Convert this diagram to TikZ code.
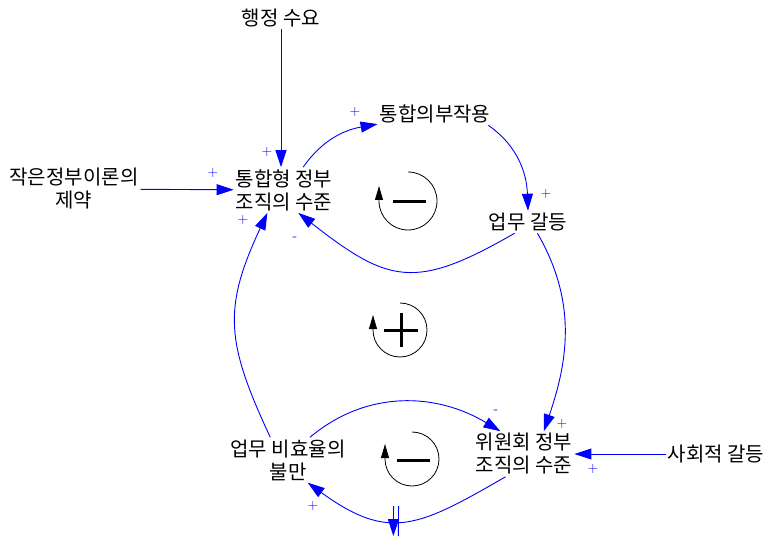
\documentclass[tikz,border=0pt]{standalone}
\usepackage{fontspec}
\usepackage{tikz}
\usetikzlibrary{arrows.meta,decorations.markings}
\newfontfamily\kr{Noto Sans CJK KR}
\definecolor{linkblue}{RGB}{0,0,255}

\begin{document}
\begin{tikzpicture}[x=1pt,y=1pt,
  var/.style={font=\kr\fontsize{20}{23}\selectfont,align=center,inner sep=2pt},
  pol/.style={font=\fontsize{14}{15}\selectfont,text=linkblue,inner sep=0pt},
  link/.style={draw=linkblue,line width=0.9pt,-{Triangle[length=17pt,width=11pt]}},
  delay/.style={postaction={decorate,decoration={markings,mark=at position 0.55 with
    {\draw[linkblue,line width=0.9pt] (-2.5,-15) -- (-2.5,15) (2.5,-15) -- (2.5,15);}}}},
  loopline/.style={line width=0.8pt,-{Triangle[length=14pt,width=8pt]}},
  sign/.style={line width=3pt}]
\useasboundingbox (0,0) rectangle (765,536);

% variables
\node[var] (demand) at (281,518) {행정 수요};
\node[var] (side) at (435,422) {통합의부작용};
\node[var] (small) at (74,347) {작은정부이론의\\제약};
\node[var] (integ) at (284,346) {통합형 정부\\조직의 수준};
\node[var] (conflict) at (528,314) {업무 갈등};
\node[var] (ineff) at (288,76) {업무 비효율의\\불만};
\node[var] (comm) at (524,82) {위원회 정부\\조직의 수준};
\node[var] (social) at (716,82) {사회적 갈등};

% links
\draw[link] (demand) -- (demand |- integ.north);
\draw[link] (small) -- (integ);
\draw[link] (integ.50) to[out=55,in=190] (side.190);
\draw[link] (side.-12) to[out=-35,in=92] (conflict.north);
\draw[link] (conflict.220) to[out=210,in=-38,looseness=1.35] (integ.-58);
\draw[link] (conflict.-50) to[out=-60,in=71] (comm.49);
\draw[link] (social) -- (comm);
\draw[link] (ineff.128) to[out=115,in=245,looseness=1.2] (integ.234);
\draw[link] (ineff.46) to[out=40,in=149] (comm.136);
\draw[link,delay] (comm.231) to[out=210,in=-36,looseness=1.3] (ineff.-49);

% polarities
\node[pol] (p1) at (267,384) {+};
\node[pol] (p2) at (213,363) {+};
\node[pol] (p3) at (355,424) {+};
\node[pol] (p4) at (546,342) {+};
\node[pol] (p5) at (295,297) {-};
\node[pol] (p6) at (243,316) {+};
\node[pol] (p7) at (562,112) {+};
\node[pol] (p8) at (593,67) {+};
\node[pol] (p9) at (496,124) {-};
\node[pol] (p10) at (313,30) {+};

% loop markers
\draw[loopline] (408,364) arc[start angle=90,end angle=-180,radius=29] -- ++(0,15);
\draw[sign] (393,334) -- (426,334);
\draw[loopline] (400,233) arc[start angle=90,end angle=-180,radius=27] -- ++(0,15);
\draw[sign] (384,206) -- (418,206) (401,189) -- (401,223);
\draw[loopline] (412,104) arc[start angle=90,end angle=-180,radius=27] -- ++(0,15);
\draw[sign] (397,76) -- (430,76);
\end{tikzpicture}
\end{document}
